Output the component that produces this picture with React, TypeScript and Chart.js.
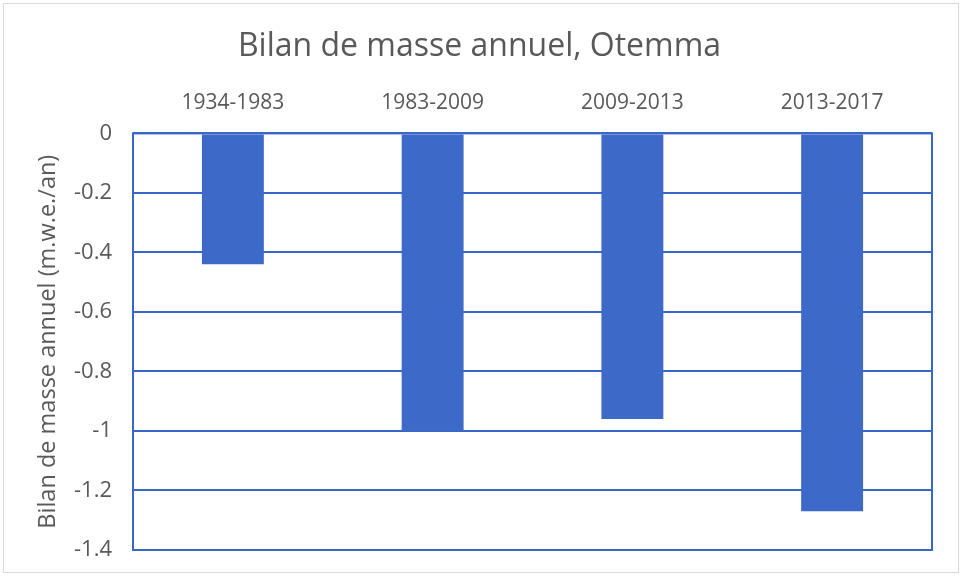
import React, { useEffect, useRef } from "react";
import { Chart, registerables } from "chart.js";

Chart.register(...registerables);

const categories = ["1934-1983", "1983-2009", "2009-2013", "2013-2017"];
const massBalance = [-0.44, -1.0, -0.96, -1.27];
const yTickValues = [0, -0.2, -0.4, -0.6, -0.8, -1, -1.2, -1.4];
const chartTitle = "Bilan de masse annuel, Otemma";
const yAxisTitle = "Bilan de masse annuel (m.w.e./an)";

const BAR_COLOR = "#3d69c9";
const LINE_COLOR = "#3a66c8";
const TEXT_COLOR = "#595959";
const FONT = "'Open Sans', sans-serif";

export default function App() {
  const ref = useRef<HTMLCanvasElement>(null);

  useEffect(() => {
    if (!ref.current) return;
    const framePlugin = {
      id: "framePlugin",
      beforeDraw(chart: any) {
        const ctx = chart.ctx;
        ctx.save();
        ctx.fillStyle = "#ffffff";
        ctx.fillRect(0, 0, chart.width, chart.height);
        ctx.strokeStyle = "#d9d9d9";
        ctx.lineWidth = 1;
        ctx.strokeRect(3.5, 3.5, chart.width - 7, chart.height - 8);
        ctx.restore();
      },
      beforeDatasetsDraw(chart: any) {
        const { ctx, chartArea } = chart;
        ctx.save();
        ctx.strokeStyle = LINE_COLOR;
        ctx.lineWidth = 2;
        ctx.strokeRect(
          chartArea.left,
          chartArea.top,
          chartArea.right - chartArea.left,
          chartArea.bottom - chartArea.top
        );
        ctx.restore();
      },
    };

    const chart = new Chart(ref.current, {
      type: "bar",
      data: {
        labels: categories,
        datasets: [
          {
            label: chartTitle,
            data: massBalance,
            backgroundColor: BAR_COLOR,
            borderWidth: 0,
            barPercentage: 0.31,
            categoryPercentage: 1,
          },
        ],
      },
      options: {
        animation: false,
        responsive: true,
        maintainAspectRatio: false,
        layout: { padding: { left: 27, right: 30, top: 0, bottom: 27 } },
        plugins: {
          legend: { display: false },
          tooltip: { enabled: false },
          title: {
            display: true,
            text: chartTitle,
            color: TEXT_COLOR,
            font: { family: FONT, size: 32, weight: "normal" },
            padding: { top: 28, bottom: 23 },
          },
        },
        scales: {
          x: {
            position: "top",
            grid: { display: false, drawTicks: false },
            border: { display: false },
            ticks: {
              color: TEXT_COLOR,
              font: { family: FONT, size: 21 },
              padding: 18,
              maxRotation: 0,
            },
            afterFit(scale: any) {
              scale.height = 44;
            },
          },
          y: {
            min: -1.4,
            max: 0,
            grid: { color: LINE_COLOR, lineWidth: 2, drawTicks: false },
            border: { display: false },
            afterBuildTicks(scale: any) {
              scale.ticks = yTickValues.map((v) => ({ value: v }));
            },
            ticks: {
              color: TEXT_COLOR,
              font: { family: FONT, size: 22 },
              padding: 21,
              callback: (v: any) => String(Math.round(Number(v) * 10) / 10),
            },
            title: {
              display: true,
              text: yAxisTitle,
              color: TEXT_COLOR,
              font: { family: FONT, size: 23.5 },
              padding: { top: 7, bottom: 0 },
            },
            afterFit(scale: any) {
              scale.width = 106;
              scale.paddingTop = 0;
              scale.paddingBottom = 0;
            },
          },
        },
      },
      plugins: [framePlugin],
    });
    return () => chart.destroy();
  }, []);

  return (
    <div
      style={{
        position: "fixed",
        left: 0,
        top: 0,
        width: 962,
        height: 577,
        background: "#ffffff",
      }}
    >
      <canvas ref={ref} />
    </div>
  );
}
